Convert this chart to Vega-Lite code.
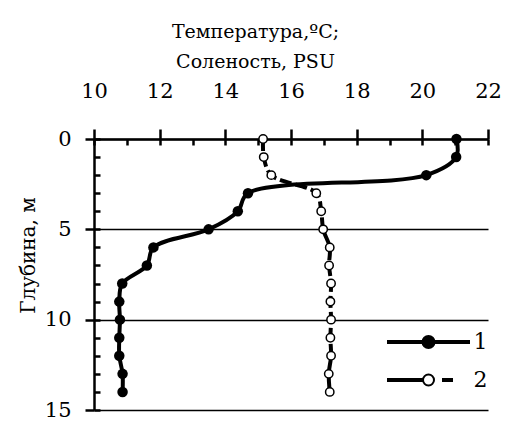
{
  "$schema": "https://vega.github.io/schema/vega-lite/v6.json",
  "autosize": "none",
  "padding": {"left": 94, "top": 139, "right": 19, "bottom": 14},
  "width": 394,
  "height": 271,
  "config": {"view": {"stroke": null}, "font": "DejaVu Serif"},
  "data": {"values": [
    {"series": "1", "depth": 0, "value": 21.04},
    {"series": "1", "depth": 1, "value": 21.03},
    {"series": "1", "depth": 2, "value": 20.12},
    {"series": "1", "depth": 3, "value": 14.69},
    {"series": "1", "depth": 4, "value": 14.38},
    {"series": "1", "depth": 5, "value": 13.49},
    {"series": "1", "depth": 6, "value": 11.81},
    {"series": "1", "depth": 7, "value": 11.61},
    {"series": "1", "depth": 8, "value": 10.86},
    {"series": "1", "depth": 9, "value": 10.77},
    {"series": "1", "depth": 10, "value": 10.79},
    {"series": "1", "depth": 11, "value": 10.77},
    {"series": "1", "depth": 12, "value": 10.77},
    {"series": "1", "depth": 13, "value": 10.87},
    {"series": "1", "depth": 14, "value": 10.87},
    {"series": "2", "depth": 0, "value": 15.15},
    {"series": "2", "depth": 1, "value": 15.17},
    {"series": "2", "depth": 2, "value": 15.40},
    {"series": "2", "depth": 3, "value": 16.77},
    {"series": "2", "depth": 4, "value": 16.92},
    {"series": "2", "depth": 5, "value": 16.98},
    {"series": "2", "depth": 6, "value": 17.18},
    {"series": "2", "depth": 7, "value": 17.16},
    {"series": "2", "depth": 8, "value": 17.22},
    {"series": "2", "depth": 9, "value": 17.20},
    {"series": "2", "depth": 10, "value": 17.22},
    {"series": "2", "depth": 11, "value": 17.20},
    {"series": "2", "depth": 12, "value": 17.22},
    {"series": "2", "depth": 13, "value": 17.15},
    {"series": "2", "depth": 14, "value": 17.18}
  ]},
  "resolve": {"axis": {"x": "independent", "y": "independent"}},
  "layer": [
    {
      "transform": [{"filter": "datum.series === '1'"}],
      "mark": {"type": "line", "color": "black", "strokeWidth": 4, "interpolate": "catmull-rom"},
      "encoding": {
        "x": {"field": "value", "type": "quantitative",
          "scale": {"domain": [10, 22], "nice": false, "zero": false},
          "axis": {"orient": "top", "values": [10, 12, 14, 16, 18, 20, 22], "tickSize": 10, "tickWidth": 2.5, "tickColor": "black",
            "domainWidth": 2.5, "domainColor": "black", "grid": false,
            "labelFont": "DejaVu Serif", "labelFontSize": 21, "labelColor": "black", "labelPadding": 32, "labelBaseline": "alphabetic", "labelFlush": false,
            "title": ["Температура,ºС;", "Соленость, PSU"], "titleFont": "DejaVu Serif", "titleFontSize": 19, "titleFontWeight": "normal", "titleColor": "black",
            "titleX": 161, "titleY": -102, "titleAlign": "center", "titleBaseline": "alphabetic", "titleLineHeight": 30}},
        "y": {"field": "depth", "type": "quantitative",
          "scale": {"domain": [0, 15], "nice": false, "zero": false, "reverse": true},
          "axis": {"orient": "left", "values": [0, 5, 10, 15], "tickSize": 9, "tickWidth": 2.5, "tickColor": "black",
            "domainWidth": 2.5, "domainColor": "black", "grid": true, "gridColor": "black", "gridWidth": 1.5, "gridOpacity": 1,
            "labelFont": "DejaVu Serif", "labelFontSize": 21, "labelColor": "black", "labelPadding": 14, "labelFlush": false,
            "title": "Глубина, м", "titleFont": "DejaVu Serif", "titleFontSize": 20, "titleFontWeight": "normal", "titleColor": "black",
            "titleX": -66, "titleY": 116, "titleAngle": -90, "titleAlign": "center", "titleBaseline": "middle"}},
        "order": {"field": "depth", "type": "quantitative"}
      }
    },
    {
      "transform": [{"filter": "datum.series === '2'"}],
      "mark": {"type": "line", "color": "black", "strokeWidth": 4, "strokeDash": [12, 4], "interpolate": "catmull-rom"},
      "encoding": {
        "x": {"field": "value", "type": "quantitative",
          "axis": {"orient": "top", "values": [10, 11, 12, 13, 14, 15, 16, 17, 18, 19, 20, 21, 22], "tickSize": -6, "tickWidth": 2.5, "tickColor": "black",
            "domain": false, "labels": false, "grid": false, "title": null}},
        "y": {"field": "depth", "type": "quantitative",
          "axis": {"orient": "left", "values": [0, 1, 2, 3, 4, 5, 6, 7, 8, 9, 10, 11, 12, 13, 14, 15], "tickSize": -6, "tickWidth": 2.5, "tickColor": "black",
            "domain": false, "labels": false, "grid": false, "title": null}},
        "order": {"field": "depth", "type": "quantitative"}
      }
    },
    {
      "transform": [{"filter": "datum.series === '2'"}],
      "mark": {"type": "point", "shape": "circle", "filled": true, "fill": "white", "stroke": "black", "strokeWidth": 1.5, "size": 70, "opacity": 1},
      "encoding": {
        "x": {"field": "value", "type": "quantitative", "axis": null},
        "y": {"field": "depth", "type": "quantitative", "axis": null}
      }
    },
    {
      "transform": [{"filter": "datum.series === '1'"}],
      "mark": {"type": "point", "shape": "circle", "filled": true, "fill": "black", "strokeWidth": 0, "size": 110, "opacity": 1},
      "encoding": {
        "x": {"field": "value", "type": "quantitative", "axis": null},
        "y": {"field": "depth", "type": "quantitative", "axis": null}
      }
    },
    {
      "transform": [{"filter": "datum.depth < 0"}],
      "mark": {"type": "point", "filled": true, "stroke": "black", "strokeWidth": 2, "opacity": 1},
      "encoding": {
        "x": {"field": "value", "type": "quantitative", "axis": null},
        "y": {"field": "depth", "type": "quantitative", "axis": null},
        "shape": {"field": "series", "type": "nominal",
          "scale": {"domain": ["1", "2"], "range": [
            "M-4.05,-0.1H4.05V0.1H-4.05Z M0.6,0A0.6,0.6,0,1,1,-0.6,0A0.6,0.6,0,1,1,0.6,0Z",
            "M-4.05,-0.1H-0.55V0.1H-4.05Z M0.55,0A0.55,0.55,0,1,1,-0.55,0A0.55,0.55,0,1,1,0.55,0Z M1.45,-0.1H2.35V0.1H1.45Z"]},
          "legend": {"title": null, "orient": "none", "legendX": 323.5, "legendY": 192, "padding": 0,
            "symbolSize": 400, "symbolStrokeWidth": 2, "symbolStrokeColor": "black", "symbolOpacity": 1,
            "labelFont": "DejaVu Serif", "labelFontSize": 22, "labelColor": "black", "labelOffset": 34, "rowPadding": 16}},
        "fill": {"field": "series", "type": "nominal",
          "scale": {"domain": ["1", "2"], "range": ["black", "white"]},
          "legend": {"title": null, "orient": "none", "legendX": 323.5, "legendY": 192, "padding": 0,
            "symbolSize": 400, "symbolStrokeWidth": 2, "symbolStrokeColor": "black", "symbolOpacity": 1,
            "labelFont": "DejaVu Serif", "labelFontSize": 22, "labelColor": "black", "labelOffset": 34, "rowPadding": 16}},
        "stroke": {"field": "series", "type": "nominal",
          "scale": {"domain": ["1", "2"], "range": ["black", "black"]},
          "legend": {"title": null, "orient": "none", "legendX": 323.5, "legendY": 192, "padding": 0,
            "symbolSize": 400, "symbolStrokeWidth": 2, "symbolOpacity": 1,
            "labelFont": "DejaVu Serif", "labelFontSize": 22, "labelColor": "black", "labelOffset": 34, "rowPadding": 16}}
      }
    }
  ]
}
